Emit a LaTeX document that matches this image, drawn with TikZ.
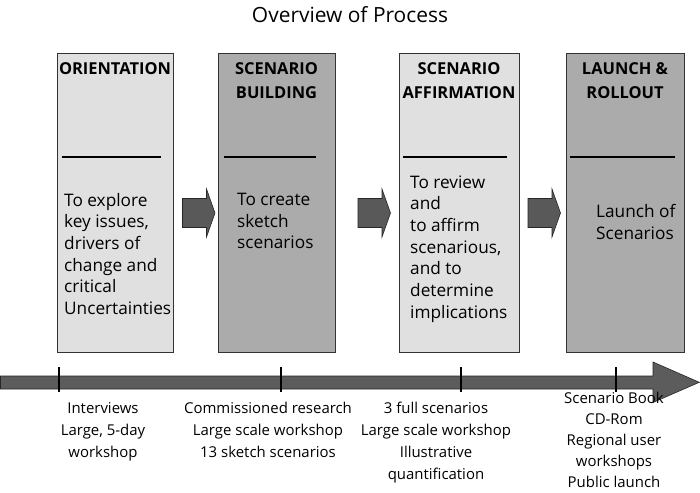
\documentclass[tikz,border=0pt]{standalone}
\usepackage{fontspec}
\setmainfont{Open Sans}
\begin{document}
\begin{tikzpicture}[x=1bp,y=-1bp,
  phase/.style={draw=black!80, line width=0.8bp, minimum width=#1, minimum height=299bp, inner sep=0pt},
  lightbox/.style={fill=black!12},
  darkbox/.style={fill=black!33},
  head/.style={font=\fontsize{16.5}{24}\selectfont\bfseries, align=center, anchor=north, inner sep=0pt},
  body/.style={font=\fontsize{17.3}{21.7}\selectfont, align=left, anchor=north west, inner sep=0pt},
  sep/.style={line width=1.8bp, black},
  blockarrow/.style={fill=black!65, draw=black!85, line width=0.6bp},
  lbl/.style={font=\fontsize{15}{22}\selectfont, align=center, anchor=north, inner sep=0pt},
  tick/.style={line width=1.5bp, black}]
\useasboundingbox (0,0) rectangle (700,493);

\node[font=\fontsize{21}{24}\selectfont, inner sep=0pt] (title) at (350,15) {Overview of Process};

% boxes
\node[phase=116bp, lightbox] (b1) at (115,202.5) {};
\node[phase=117bp, darkbox]  (b2) at (276.5,202.5) {};
\node[phase=120bp, lightbox] (b3) at (459,202.5) {};
\node[phase=118bp, darkbox]  (b4) at (625,202.5) {};

% headers
\node[head] (h1) at (115,62) {ORIENTATION};
\node[head] (h2) at (276.5,62) {SCENARIO\\BUILDING};
\node[head] (h3) at (459,62) {SCENARIO\\AFFIRMATION};
\node[head] (h4) at (625,62) {LAUNCH \&\\ROLLOUT};

% separators
\draw[sep] (62,157) -- (161,157);
\draw[sep] (224,157) -- (316,157);
\draw[sep] (403,157) -- (507,157);
\draw[sep] (570,157) -- (675,157);

% body texts
\node[body] (t1) at (64,193) {To explore\\key issues,\\drivers of\\change and\\critical\\Uncertainties};
\node[body] (t2) at (237,193) {To create\\sketch\\scenarios};
\node[body] (t3) at (410,175.5) {To review\\and\\to affirm\\scenarious,\\and to\\determine\\implications};
\node[body] (t4) at (596,204) {Launch of\\Scenarios};

% block arrows between boxes
\foreach \x/\n in {182.5/a1, 358/a2, 528/a3}{
  \draw[blockarrow] (\x,198.5) -- ++(24,0) -- ++(0,-9.5) -- ++(8.5,24) -- ++(-8.5,24) -- ++(0,-9.5) -- ++(-24,0) -- cycle;
}

% timeline
\draw[blockarrow, fill=black!64] (0.5,376) -- (653,376) -- (653,362) -- (699.3,382.3) -- (653,402.5) -- (653,389) -- (0.5,389) -- cycle;
\coordinate (k1) at (59,367);
\coordinate (k2) at (281,367);
\coordinate (k3) at (461,367);
\coordinate (k4) at (616,367);
\foreach \k in {k1,k2,k3,k4}{\draw[tick] (\k) -- ++(0,25);}

% labels
\node[lbl] (l1) at (103,402) {Interviews\\Large, 5-day\\workshop};
\node[lbl] (l2) at (268,402) {Commissioned research\\Large scale workshop\\13 sketch scenarios};
\node[lbl] (l3) at (436,402) {3 full scenarios\\Large scale workshop\\Illustrative\\quantification};
\node[lbl, font=\fontsize{15}{21}\selectfont] (l4) at (614,392) {Scenario Book\\CD-Rom\\Regional user\\workshops\\Public launch};
\end{tikzpicture}
\end{document}
